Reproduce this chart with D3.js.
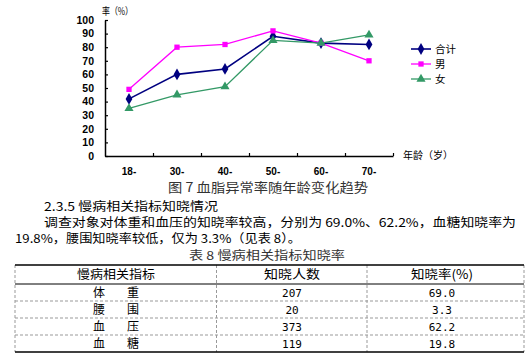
<!DOCTYPE html>
<html><head><meta charset="utf-8">
<script src="https://cdn.jsdelivr.net/npm/d3@7"></script>
<style>body{margin:0;background:#fff}svg{display:block}</style>
</head><body>
<svg id="c" width="528" height="355"></svg>
<script>
// ---- data ----
const categories = ["18-","30-","40-","50-","60-","70-"];
const totalVals = [42, 60, 64, 88, 83, 82];
const maleVals = [49, 80, 82, 92, 83, 70];
const femaleVals = [35, 45, 51, 85, 83, 89];
const seriesNames = ["合计","男","女"];
const yTicks = [0,10,20,30,40,50,60,70,80,90,100];
const tableHeader = ["慢病相关指标","知晓人数","知晓率(%)"];
const tableIndicators = ["体　重","腰　围","血　压","血　糖"];
const tableCounts = ["207","20","373","119"];
const tableRates = ["69.0","3.3","62.2","19.8"];

const svg = d3.select("#c");
const cjk = "'Noto Sans CJK SC','Noto Sans',sans-serif";

// scales
const x = d3.scaleBand().domain(categories).range([105, 393]).padding(0);
const xb = d3.scaleLinear().domain([0, categories.length]).range([105, 393]);
const y = d3.scaleLinear().domain([0, 100]).range([156, 20]);
const cx = c => x(c) + x.bandwidth() / 2;

// y axis
const ya = svg.append("g").attr("transform", "translate(105,0)")
  .call(d3.axisLeft(y).tickValues(yTicks).tickSizeInner(-3).tickSizeOuter(0).tickPadding(11));
ya.select(".domain").attr("stroke", "#000").attr("stroke-width", 1.5);
ya.selectAll(".tick line").attr("stroke", "#000").attr("stroke-width", 1.2);
ya.selectAll(".tick text").attr("font-family", "'Liberation Sans',Arial,sans-serif")
  .attr("font-size", 10.5).attr("font-weight", "bold").attr("fill", "#000");

// x axis
const xa = svg.append("g").attr("transform", "translate(0,156)")
  .call(d3.axisBottom(xb).tickValues(d3.range(1, categories.length + 1)).tickSizeInner(-3).tickSizeOuter(0).tickFormat(""));
xa.select(".domain").attr("stroke", "#000").attr("stroke-width", 1.5);
xa.selectAll(".tick line").attr("stroke", "#000").attr("stroke-width", 1.2);
xa.selectAll(".tick text").remove();

svg.append("g").selectAll("text").data(categories).join("text")
  .attr("x", d => cx(d)).attr("y", 175).attr("text-anchor", "middle")
  .attr("font-family", "'Liberation Sans',Arial,sans-serif").attr("font-size", 10).attr("font-weight", "bold")
  .text(d => d);

// axis titles
svg.append("text").attr("x", 102).attr("y", 15).attr("font-family", cjk).attr("font-size", 10)
  .attr("textLength", 31).attr("lengthAdjust", "spacingAndGlyphs").text("率（%）");
svg.append("text").attr("x", 403).attr("y", 159).attr("font-family", cjk).attr("font-size", 10)
  .attr("textLength", 50).attr("lengthAdjust", "spacingAndGlyphs").text("年龄（岁）");

// series
const series = [
  {name: seriesNames[0], vals: totalVals, color: "#000080", w: 1.6, sym: d3.symbolDiamond, size: 40},
  {name: seriesNames[1], vals: maleVals, color: "#FF00FF", w: 1.3, sym: d3.symbolSquare, size: 28},
  {name: seriesNames[2], vals: femaleVals, color: "#339966", w: 1.3, sym: d3.symbolTriangle, size: 36}
];
const line = d3.line().x((d, i) => cx(categories[i])).y(d => y(d));
series.forEach(s => {
  svg.append("path").attr("d", line(s.vals)).attr("fill", "none").attr("stroke", s.color).attr("stroke-width", s.w);
  svg.append("g").selectAll("path").data(s.vals).join("path")
    .attr("transform", (d, i) => `translate(${cx(categories[i])},${y(d)})`)
    .attr("d", d3.symbol().type(s.sym).size(s.size)).attr("fill", s.color);
});

// legend
const legY = [49, 64, 79];
series.forEach((s, i) => {
  const g = svg.append("g").attr("transform", `translate(411,${legY[i]})`);
  g.append("line").attr("x1", 0).attr("x2", 20).attr("stroke", s.color).attr("stroke-width", s.w);
  g.append("path").attr("transform", "translate(10,0)").attr("d", d3.symbol().type(s.sym).size(s.size)).attr("fill", s.color);
  g.append("text").attr("x", 24).attr("y", 4).attr("font-family", cjk).attr("font-size", 10.5).text(s.name);
});

// caption
svg.append("text").attr("x", 168).attr("y", 192).attr("font-family", cjk).attr("font-size", 13)
  .attr("fill", "#333").attr("textLength", 200).attr("lengthAdjust", "spacingAndGlyphs").text("图 7 血脂异常率随年龄变化趋势");

// body text
const body = [
  {t: "2.3.5 慢病相关指标知晓情况", x: 44, y: 211, w: 174},
  {t: "调查对象对体重和血压的知晓率较高，分别为 69.0%、62.2%，血糖知晓率为", x: 44, y: 227, w: 472},
  {t: "19.8%，腰围知晓率较低，仅为 3.3%（见表 8）。", x: 15, y: 243, w: 286},
  {t: "表 8 慢病相关指标知晓率", x: 189, y: 260, w: 156}
];
body.forEach(b => svg.append("text").attr("x", b.x).attr("y", b.y).attr("font-family", cjk)
  .attr("font-size", 12).attr("fill", b.t.startsWith("表") ? "#333" : "#000")
  .attr("textLength", b.w).attr("lengthAdjust", "spacingAndGlyphs").attr("xml:space", "preserve").text(b.t));

// table
const tL = 15, tR = 524, colX = [15, 216.5, 367, 524];
const rowY = [265, 284, 301, 318, 335, 352];
const tg = svg.append("g");
colX.forEach(cxv => tg.append("line").attr("x1", cxv).attr("x2", cxv).attr("y1", 265).attr("y2", 352)
  .attr("stroke", "#999").attr("stroke-dasharray", "3,2"));
rowY.slice(2, 5).forEach(ry => tg.append("line").attr("x1", tL).attr("x2", tR).attr("y1", ry).attr("y2", ry)
  .attr("stroke", "#999").attr("stroke-dasharray", "3,2"));
tg.append("line").attr("x1", tL).attr("x2", tR).attr("y1", 265).attr("y2", 265).attr("stroke", "#000").attr("stroke-width", 1.5);
tg.append("line").attr("x1", tL).attr("x2", tR).attr("y1", 284).attr("y2", 284).attr("stroke", "#000").attr("stroke-width", 1);
tg.append("line").attr("x1", tL).attr("x2", tR).attr("y1", 352).attr("y2", 352).attr("stroke", "#000").attr("stroke-width", 1.5);

const colC = [116, 292, 442];
const hw = [78, 56, 62];
tableHeader.forEach((h, i) => tg.append("text").attr("x", colC[i]).attr("y", 279).attr("text-anchor", "middle")
  .attr("font-family", cjk).attr("font-size", 12.5).attr("textLength", hw[i]).attr("lengthAdjust", "spacingAndGlyphs").text(h));
const rows = tableIndicators.map((d, i) => [d, tableCounts[i], tableRates[i]]);
rows.forEach((r, ri) => {
  const yy = rowY[ri + 1] + 13;
  r.forEach((v, ci) => {
    const t = tg.append("text").attr("x", colC[ci]).attr("y", yy).attr("text-anchor", "middle")
      .attr("xml:space", "preserve").text(v);
    if (ci === 0) t.attr("font-family", cjk).attr("font-size", 12).attr("textLength", 46).attr("lengthAdjust", "spacing");
    else t.attr("font-family", "'DejaVu Sans Mono',monospace").attr("font-size", 11);
  });
});
</script>
</body></html>
